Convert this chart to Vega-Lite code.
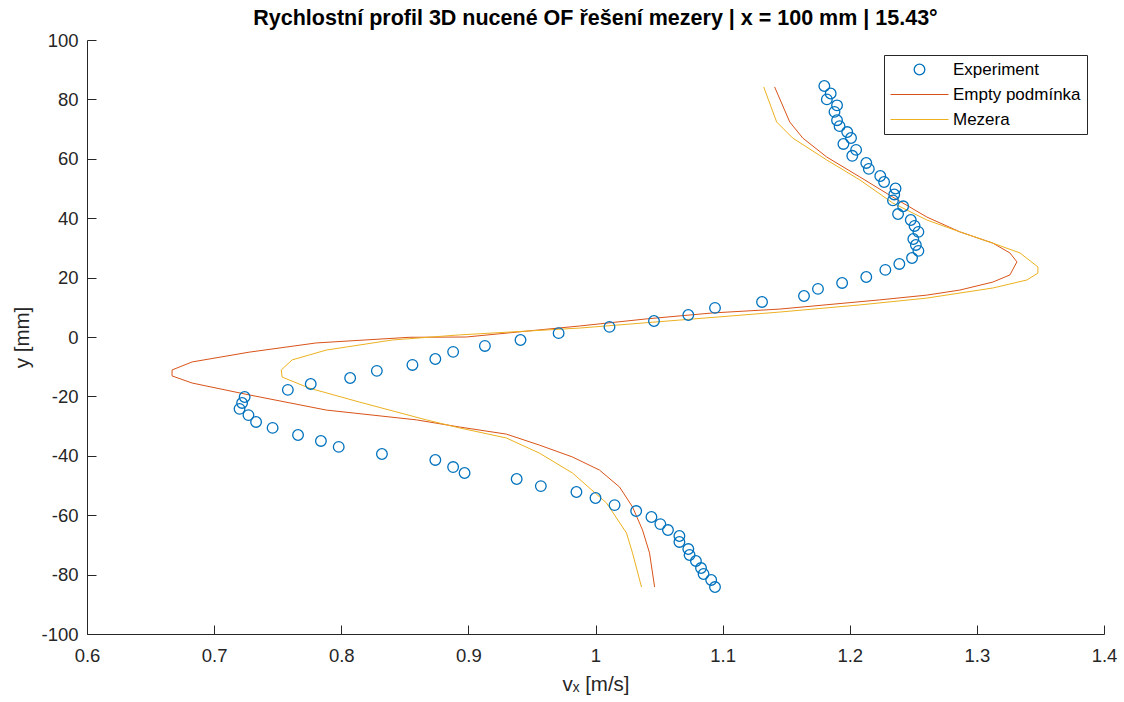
{
  "$schema": "https://vega.github.io/schema/vega-lite/v6.json",
  "width": 1017,
  "height": 594,
  "autosize": "none",
  "padding": {"left": 87, "top": 40, "right": 20, "bottom": 68},
  "background": "white",
  "config": {
    "font": "Liberation Sans",
    "view": {"stroke": null},
    "axis": {
      "grid": false,
      "domainColor": "#262626",
      "tickColor": "#262626",
      "labelColor": "#262626",
      "titleColor": "#262626",
      "labelFont": "Liberation Sans",
      "titleFont": "Liberation Sans",
      "labelFontSize": 18.5,
      "titleFontSize": 20.5,
      "titleFontWeight": "normal",
      "domainWidth": 1,
      "tickWidth": 1,
      "tickSize": -9,
      "labelFlush": false,
      "labelOverlap": false,
      "labelExpr": "'' + datum.value"
    }
  },
  "title": {
    "text": "Rychlostní profil 3D nucené OF řešení mezery | x = 100 mm | 15.43°",
    "fontSize": 21.5,
    "fontWeight": "bold",
    "font": "Liberation Sans",
    "color": "#000000",
    "offset": 2
  },
  "data": {
    "values": [
      {"s": "Experiment", "v": 1.180, "y": 84.5},
      {"s": "Experiment", "v": 1.185, "y": 82.0},
      {"s": "Experiment", "v": 1.182, "y": 80.0},
      {"s": "Experiment", "v": 1.190, "y": 78.0},
      {"s": "Experiment", "v": 1.188, "y": 75.8},
      {"s": "Experiment", "v": 1.190, "y": 73.0},
      {"s": "Experiment", "v": 1.192, "y": 71.0},
      {"s": "Experiment", "v": 1.198, "y": 69.0},
      {"s": "Experiment", "v": 1.201, "y": 67.0},
      {"s": "Experiment", "v": 1.195, "y": 65.0},
      {"s": "Experiment", "v": 1.205, "y": 63.0},
      {"s": "Experiment", "v": 1.202, "y": 61.0},
      {"s": "Experiment", "v": 1.213, "y": 58.6},
      {"s": "Experiment", "v": 1.215, "y": 56.6},
      {"s": "Experiment", "v": 1.224, "y": 54.2},
      {"s": "Experiment", "v": 1.227, "y": 52.2},
      {"s": "Experiment", "v": 1.236, "y": 50.0},
      {"s": "Experiment", "v": 1.235, "y": 48.0},
      {"s": "Experiment", "v": 1.234, "y": 46.0},
      {"s": "Experiment", "v": 1.242, "y": 44.0},
      {"s": "Experiment", "v": 1.238, "y": 41.4},
      {"s": "Experiment", "v": 1.248, "y": 39.4},
      {"s": "Experiment", "v": 1.251, "y": 37.4},
      {"s": "Experiment", "v": 1.254, "y": 35.4},
      {"s": "Experiment", "v": 1.250, "y": 33.0},
      {"s": "Experiment", "v": 1.252, "y": 31.0},
      {"s": "Experiment", "v": 1.254, "y": 29.0},
      {"s": "Experiment", "v": 1.249, "y": 26.6},
      {"s": "Experiment", "v": 1.239, "y": 24.6},
      {"s": "Experiment", "v": 1.228, "y": 22.6},
      {"s": "Experiment", "v": 1.213, "y": 20.2},
      {"s": "Experiment", "v": 1.194, "y": 18.2},
      {"s": "Experiment", "v": 1.175, "y": 16.2},
      {"s": "Experiment", "v": 1.164, "y": 13.8},
      {"s": "Experiment", "v": 1.131, "y": 11.8},
      {"s": "Experiment", "v": 1.094, "y": 9.8},
      {"s": "Experiment", "v": 1.073, "y": 7.4},
      {"s": "Experiment", "v": 1.046, "y": 5.4},
      {"s": "Experiment", "v": 1.011, "y": 3.4},
      {"s": "Experiment", "v": 0.971, "y": 1.3},
      {"s": "Experiment", "v": 0.941, "y": -1.0},
      {"s": "Experiment", "v": 0.913, "y": -3.0},
      {"s": "Experiment", "v": 0.888, "y": -5.0},
      {"s": "Experiment", "v": 0.874, "y": -7.4},
      {"s": "Experiment", "v": 0.856, "y": -9.4},
      {"s": "Experiment", "v": 0.828, "y": -11.4},
      {"s": "Experiment", "v": 0.807, "y": -13.8},
      {"s": "Experiment", "v": 0.776, "y": -15.8},
      {"s": "Experiment", "v": 0.758, "y": -17.8},
      {"s": "Experiment", "v": 0.724, "y": -20.2},
      {"s": "Experiment", "v": 0.722, "y": -22.2},
      {"s": "Experiment", "v": 0.720, "y": -24.2},
      {"s": "Experiment", "v": 0.727, "y": -26.3},
      {"s": "Experiment", "v": 0.733, "y": -28.6},
      {"s": "Experiment", "v": 0.746, "y": -30.6},
      {"s": "Experiment", "v": 0.766, "y": -33.0},
      {"s": "Experiment", "v": 0.784, "y": -35.0},
      {"s": "Experiment", "v": 0.798, "y": -37.0},
      {"s": "Experiment", "v": 0.832, "y": -39.4},
      {"s": "Experiment", "v": 0.874, "y": -41.4},
      {"s": "Experiment", "v": 0.888, "y": -43.8},
      {"s": "Experiment", "v": 0.897, "y": -45.8},
      {"s": "Experiment", "v": 0.938, "y": -47.8},
      {"s": "Experiment", "v": 0.957, "y": -50.2},
      {"s": "Experiment", "v": 0.985, "y": -52.2},
      {"s": "Experiment", "v": 1.000, "y": -54.2},
      {"s": "Experiment", "v": 1.015, "y": -56.6},
      {"s": "Experiment", "v": 1.032, "y": -58.6},
      {"s": "Experiment", "v": 1.044, "y": -60.6},
      {"s": "Experiment", "v": 1.051, "y": -63.0},
      {"s": "Experiment", "v": 1.057, "y": -65.0},
      {"s": "Experiment", "v": 1.066, "y": -67.0},
      {"s": "Experiment", "v": 1.066, "y": -69.0},
      {"s": "Experiment", "v": 1.073, "y": -71.4},
      {"s": "Experiment", "v": 1.074, "y": -73.4},
      {"s": "Experiment", "v": 1.079, "y": -75.4},
      {"s": "Experiment", "v": 1.083, "y": -77.8},
      {"s": "Experiment", "v": 1.085, "y": -79.8},
      {"s": "Experiment", "v": 1.091, "y": -81.8},
      {"s": "Experiment", "v": 1.094, "y": -84.2},
      {"s": "Empty podmínka", "v": 1.1409, "y": 84.2},
      {"s": "Empty podmínka", "v": 1.1528, "y": 72.4},
      {"s": "Empty podmínka", "v": 1.1630, "y": 67.0},
      {"s": "Empty podmínka", "v": 1.1819, "y": 60.6},
      {"s": "Empty podmínka", "v": 1.2079, "y": 53.9},
      {"s": "Empty podmínka", "v": 1.2339, "y": 47.1},
      {"s": "Empty podmínka", "v": 1.2606, "y": 40.4},
      {"s": "Empty podmínka", "v": 1.2866, "y": 35.4},
      {"s": "Empty podmínka", "v": 1.3126, "y": 31.6},
      {"s": "Empty podmínka", "v": 1.3260, "y": 28.3},
      {"s": "Empty podmínka", "v": 1.3315, "y": 25.3},
      {"s": "Empty podmínka", "v": 1.3260, "y": 20.9},
      {"s": "Empty podmínka", "v": 1.3126, "y": 18.5},
      {"s": "Empty podmínka", "v": 1.2866, "y": 15.8},
      {"s": "Empty podmínka", "v": 1.2606, "y": 14.1},
      {"s": "Empty podmínka", "v": 1.2236, "y": 12.5},
      {"s": "Empty podmínka", "v": 1.1449, "y": 9.4},
      {"s": "Empty podmínka", "v": 1.0921, "y": 8.1},
      {"s": "Empty podmínka", "v": 1.0402, "y": 6.1},
      {"s": "Empty podmínka", "v": 0.9874, "y": 3.7},
      {"s": "Empty podmínka", "v": 0.8984, "y": 0.0},
      {"s": "Empty podmínka", "v": 0.8535, "y": -0.1},
      {"s": "Empty podmínka", "v": 0.7803, "y": -2.0},
      {"s": "Empty podmínka", "v": 0.7276, "y": -5.1},
      {"s": "Empty podmínka", "v": 0.6827, "y": -8.4},
      {"s": "Empty podmínka", "v": 0.6669, "y": -11.1},
      {"s": "Empty podmínka", "v": 0.6669, "y": -13.1},
      {"s": "Empty podmínka", "v": 0.6827, "y": -15.5},
      {"s": "Empty podmínka", "v": 0.7276, "y": -19.5},
      {"s": "Empty podmínka", "v": 0.7882, "y": -24.6},
      {"s": "Empty podmínka", "v": 0.8591, "y": -27.9},
      {"s": "Empty podmínka", "v": 0.8929, "y": -30.3},
      {"s": "Empty podmínka", "v": 0.9299, "y": -32.7},
      {"s": "Empty podmínka", "v": 0.9559, "y": -36.4},
      {"s": "Empty podmínka", "v": 0.9819, "y": -40.4},
      {"s": "Empty podmínka", "v": 1.0031, "y": -44.8},
      {"s": "Empty podmínka", "v": 1.0189, "y": -50.5},
      {"s": "Empty podmínka", "v": 1.0291, "y": -57.2},
      {"s": "Empty podmínka", "v": 1.0370, "y": -65.0},
      {"s": "Empty podmínka", "v": 1.0425, "y": -72.7},
      {"s": "Empty podmínka", "v": 1.0465, "y": -84.2},
      {"s": "Mezera", "v": 1.1323, "y": 84.2},
      {"s": "Mezera", "v": 1.1425, "y": 72.4},
      {"s": "Mezera", "v": 1.1551, "y": 67.0},
      {"s": "Mezera", "v": 1.1819, "y": 59.6},
      {"s": "Mezera", "v": 1.2079, "y": 52.9},
      {"s": "Mezera", "v": 1.2339, "y": 45.1},
      {"s": "Mezera", "v": 1.2606, "y": 39.4},
      {"s": "Mezera", "v": 1.2866, "y": 35.4},
      {"s": "Mezera", "v": 1.3126, "y": 31.6},
      {"s": "Mezera", "v": 1.3339, "y": 28.3},
      {"s": "Mezera", "v": 1.3480, "y": 23.6},
      {"s": "Mezera", "v": 1.3480, "y": 21.5},
      {"s": "Mezera", "v": 1.3394, "y": 19.2},
      {"s": "Mezera", "v": 1.3126, "y": 16.5},
      {"s": "Mezera", "v": 1.2606, "y": 13.1},
      {"s": "Mezera", "v": 1.2079, "y": 10.8},
      {"s": "Mezera", "v": 1.1449, "y": 8.4},
      {"s": "Mezera", "v": 1.0661, "y": 5.7},
      {"s": "Mezera", "v": 0.9874, "y": 3.0},
      {"s": "Mezera", "v": 0.8929, "y": 0.7},
      {"s": "Mezera", "v": 0.8402, "y": -1.0},
      {"s": "Mezera", "v": 0.7882, "y": -4.4},
      {"s": "Mezera", "v": 0.7614, "y": -7.7},
      {"s": "Mezera", "v": 0.7528, "y": -11.1},
      {"s": "Mezera", "v": 0.7535, "y": -13.5},
      {"s": "Mezera", "v": 0.7748, "y": -17.2},
      {"s": "Mezera", "v": 0.8142, "y": -21.9},
      {"s": "Mezera", "v": 0.8669, "y": -27.9},
      {"s": "Mezera", "v": 0.8929, "y": -30.6},
      {"s": "Mezera", "v": 0.9299, "y": -34.0},
      {"s": "Mezera", "v": 0.9559, "y": -39.1},
      {"s": "Mezera", "v": 0.9819, "y": -45.8},
      {"s": "Mezera", "v": 1.0087, "y": -55.9},
      {"s": "Mezera", "v": 1.0244, "y": -66.0},
      {"s": "Mezera", "v": 1.0291, "y": -72.7},
      {"s": "Mezera", "v": 1.0362, "y": -84.2}
    ]
  },
  "encoding": {
    "x": {
      "field": "v", "type": "quantitative",
      "scale": {"domain": [0.6, 1.4], "nice": false, "zero": false},
      "axis": {"title": "vₓ [m/s]", "values": [0.6, 0.7, 0.8, 0.9, 1, 1.1, 1.2, 1.3, 1.4], "labelPadding": 21, "titlePadding": 10}
    },
    "y": {
      "field": "y", "type": "quantitative",
      "scale": {"domain": [-100, 100], "nice": false, "zero": false},
      "axis": {"title": "y [mm]", "values": [-100, -80, -60, -40, -20, 0, 20, 40, 60, 80, 100], "labelPadding": 18, "titlePadding": 8}
    },
    "color": {
      "field": "s", "type": "nominal",
      "scale": {"domain": ["Experiment", "Empty podmínka", "Mezera"], "range": ["#0072BD", "#D95319", "#EDB120"]},
      "legend": {
        "title": null,
        "orient": "none",
        "legendX": 797,
        "legendY": 15,
        "strokeColor": "#262626",
        "fillColor": "white",
        "padding": 6,
        "rowPadding": 7,
        "labelFontSize": 17,
        "labelColor": "#000000",
        "labelFont": "Liberation Sans",
        "labelOffset": 25,
        "symbolOffset": 21,
        "symbolType": "stroke",
        "cornerRadius": 0,
        "encode": {
          "symbols": {
            "update": {
              "shape": {"signal": "datum.value === 'Experiment' ? 'circle' : 'stroke'"},
              "size": {"signal": "datum.value === 'Experiment' ? 113 : 3364"},
              "fill": {"value": "transparent"},
              "stroke": {"signal": "datum.value === 'Experiment' ? '#0072BD' : (datum.value === 'Mezera' ? '#EDB120' : '#D95319')"},
              "strokeWidth": {"signal": "datum.value === 'Experiment' ? 1.3 : 1"},
              "opacity": {"value": 1}
            }
          }
        }
      }
    }
  },
  "layer": [
    {
      "transform": [{"filter": "datum.s !== 'Experiment'"}],
      "mark": {"type": "line", "strokeWidth": 1},
      "encoding": {"order": {"value": null}}
    },
    {
      "transform": [{"filter": "datum.s === 'Experiment'"}],
      "mark": {"type": "point", "filled": false, "size": 113, "strokeWidth": 1.3, "opacity": 1}
    }
  ]
}
